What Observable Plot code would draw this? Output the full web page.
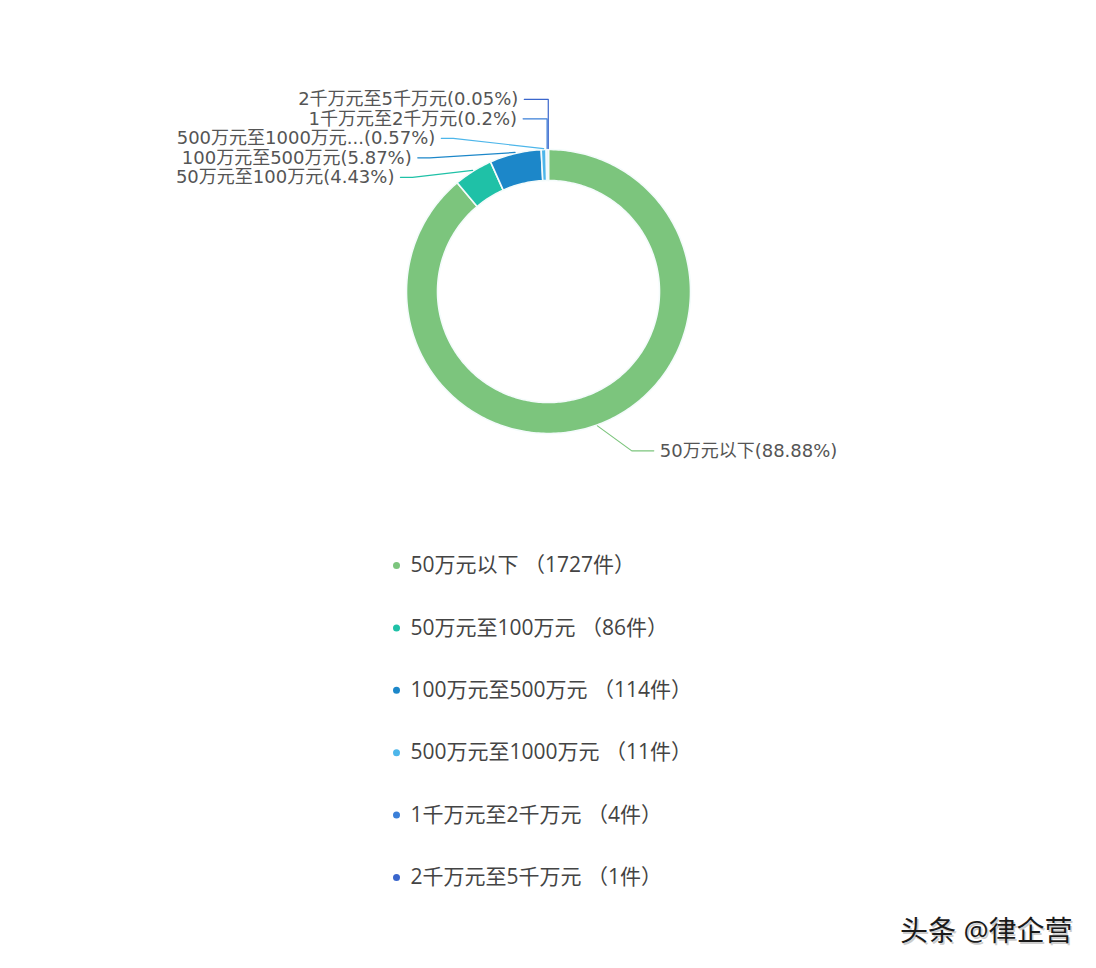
<!DOCTYPE html>
<html><head><meta charset="utf-8">
<script src="https://cdn.jsdelivr.net/npm/d3@7"></script>
<script src="https://cdn.jsdelivr.net/npm/@observablehq/plot@0.6"></script>
<style>body{margin:0;background:#fff;} #chart svg{display:block;}</style>
</head><body><div id="chart"></div>
<script>
// ---- data ----
const categories = ["50万元以下","50万元至100万元","100万元至500万元","500万元至1000万元","1千万元至2千万元","2千万元至5千万元"];
const counts = [1727, 86, 114, 11, 4, 1];
const percentLabels = ["88.88%","4.43%","5.87%","0.57%","0.2%","0.05%"];
const sliceLabelNames = ["50万元以下","50万元至100万元","100万元至500万元","500万元至1000万元...","1千万元至2千万元","2千万元至5千万元"];
const colors = ["#7cc57d","#1fc1a7","#1c87c9","#4db6ea","#3a7fd8","#3a66cc"];
const watermark = "头条 @律企营";

// ---- layout ----
const W = 1096, H = 968;
const cx = 548, cy = 291, rIn = 111, rOut = 142;
const total = d3.sum(counts);
const pt = (r, a) => [cx + r * Math.sin(a), cy - r * Math.cos(a)];

let acc = 0;
const slices = categories.map((c, i) => {
  const a0 = acc / total * 2 * Math.PI;
  acc += counts[i];
  const a1 = acc / total * 2 * Math.PI;
  return {name: c, i, a0, a1, mid: (a0 + a1) / 2, color: colors[i]};
});

// arc polygons
const arcPts = [];
for (const s of slices) {
  const n = Math.max(2, Math.ceil((s.a1 - s.a0) / (Math.PI / 180)) + 1);
  for (let k = 0; k < n; k++) {
    const a = s.a0 + (s.a1 - s.a0) * k / (n - 1);
    const [x, y] = pt(rOut, a);
    arcPts.push({name: s.name, color: s.color, x, y});
  }
  for (let k = n - 1; k >= 0; k--) {
    const a = s.a0 + (s.a1 - s.a0) * k / (n - 1);
    const [x, y] = pt(rIn, a);
    arcPts.push({name: s.name, color: s.color, x, y});
  }
}

// label layout
const R = 187, Rright = 191;
const linePts = [];
const labels = [];
let prevLeftY = null;
for (const s of slices) {
  const [ax, ay] = pt(rOut + 1, s.mid);
  const text = sliceLabelNames[s.i] + "(" + percentLabels[s.i] + ")";
  if (Math.sin(s.mid) > 0) {
    const ly = ay + 25;
    const ex = cx + Math.sqrt(Math.max(0, Rright * Rright - (ly - cy) ** 2));
    [[ax, ay], [ex - 22, ly], [ex, ly]].forEach(([x, y]) => linePts.push({name: s.name, color: s.color, x, y}));
    labels.push({text, x: ex + 6, y: ly, anchor: "start"});
  } else {
    const ly = prevLeftY === null ? ay + 7 : prevLeftY - 19.5;
    prevLeftY = ly;
    const dy = cy - ly;
    if (dy < R * 0.89) {
      const ex = cx - Math.sqrt(R * R - dy * dy);
      [[ax, ay], [ex + 12, ly], [ex, ly]].forEach(([x, y]) => linePts.push({name: s.name, color: s.color, x, y}));
      labels.push({text, x: ex - 6, y: ly, anchor: "end"});
    } else {
      const ex = ax - 24;
      [[ax, ay], [ax, ly], [ex, ly]].forEach(([x, y]) => linePts.push({name: s.name, color: s.color, x, y}));
      labels.push({text, x: ex - 6, y: ly, anchor: "end"});
    }
  }
}

// legend
const legend = categories.map((c, i) => ({
  text: c + " （" + counts[i] + "件）", color: colors[i], x: 396, y: 565 + i * 62.4
}));

const font = "'Open Sans', 'Noto Sans CJK SC', sans-serif";
const labelFont = "'DejaVu Sans', 'Noto Sans CJK SC', sans-serif";

const chart = Plot.plot({
  width: W, height: H,
  margin: 0,
  x: {domain: [0, W], range: [0, W], axis: null},
  y: {domain: [0, H], range: [0, H], axis: null},
  color: {type: "identity"},
  style: {fontFamily: font, background: "#fff"},
  marks: [
    Plot.line(arcPts, {x: "x", y: "y", z: "name", fill: "color", stroke: "#f4fbfb", strokeWidth: 1.6, curve: "linear-closed"}),
    Plot.line(linePts, {x: "x", y: "y", z: "name", stroke: "color", strokeWidth: 1.2}),
    Plot.text(labels.filter(d => d.anchor === "end"), {x: "x", y: "y", text: "text", textAnchor: "end", lineAnchor: "middle", fontSize: 18, fontFamily: labelFont, fill: "#555"}),
    Plot.text(labels.filter(d => d.anchor === "start"), {x: "x", y: "y", text: "text", textAnchor: "start", lineAnchor: "middle", fontSize: 18, fontFamily: labelFont, fill: "#555"}),
    Plot.dot(legend, {x: "x", y: "y", r: 3.5, fill: "color"}),
    Plot.text(legend, {x: d => d.x + 14, y: "y", text: "text", textAnchor: "start", lineAnchor: "middle", fontSize: 21, fill: "#444"}),
    Plot.text([watermark], {x: 1072 + 1.5, y: 932 + 1.5, text: d => d, textAnchor: "end", lineAnchor: "middle", fontSize: 28, fill: "#ccc"}),
    Plot.text([watermark], {x: 1072, y: 932, text: d => d, textAnchor: "end", lineAnchor: "middle", fontSize: 28, fill: "#1a1a1a"})
  ]
});
document.getElementById("chart").appendChild(chart);
</script>
</body></html>
